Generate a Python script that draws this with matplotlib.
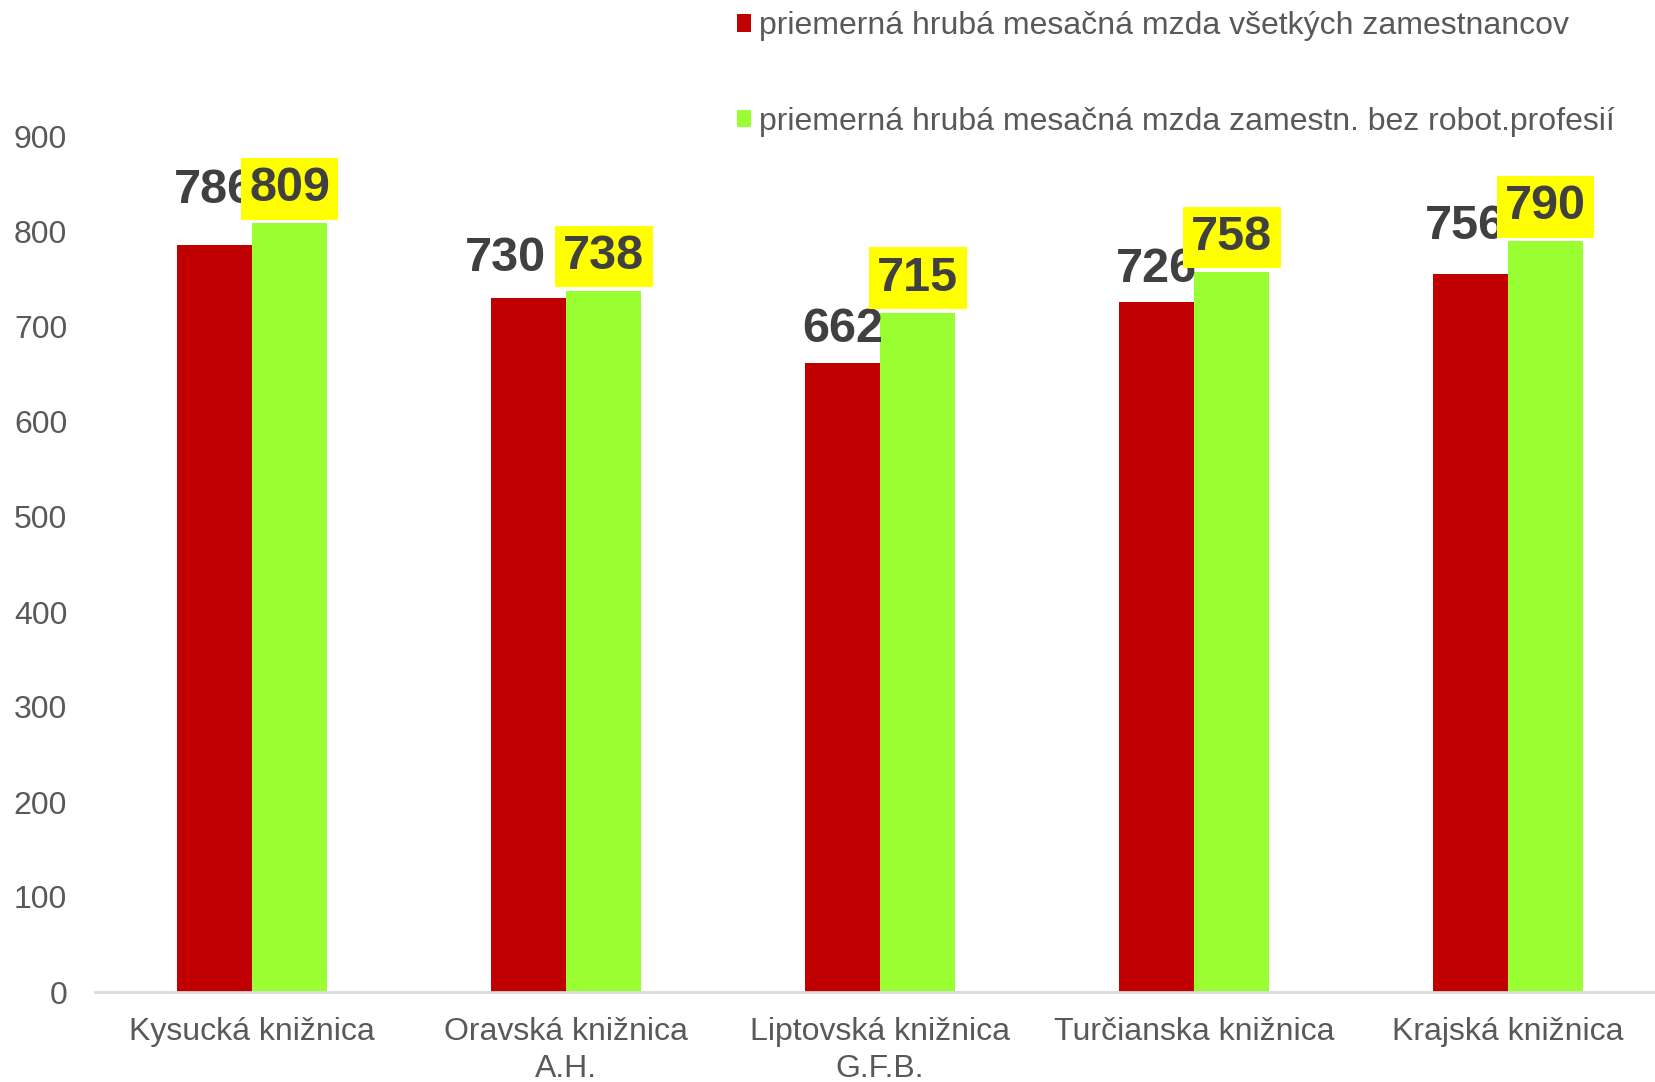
import matplotlib
matplotlib.use('Agg')
import matplotlib.pyplot as plt
import numpy as np

plt.rcParams['font.family'] = ['Liberation Sans', 'DejaVu Sans']

categories = ['Kysucká knižnica', 'Oravská knižnica\nA.H.', 'Liptovská knižnica\nG.F.B.',
              'Turčianska knižnica', 'Krajská knižnica']
mzda_vsetci = [786, 730, 662, 726, 756]
mzda_bez_robot = [809, 738, 715, 758, 790]
series_names = ['priemerná hrubá mesačná mzda všetkých zamestnancov',
                'priemerná hrubá mesačná mzda zamestn. bez robot.profesií']
yticks = [0, 100, 200, 300, 400, 500, 600, 700, 800, 900]

# posun popiskov cervenych stlpcov (Excel ich odsunul kvoli prekryvu), v pixeloch
red_dx = [0, -23, 0, 0, -5]
red_dy = [22, 7, 1, 0, 15]

RED = '#C00000'
GREEN = '#99FF33'

fig = plt.figure(figsize=(16.55, 10.82), dpi=100)
ax = fig.add_axes([95/1655, 90/1082, 1570/1655, 855/1082])

x = np.arange(len(categories))
w = 0.24
b1 = ax.bar(x - w/2, mzda_vsetci, w, color=RED, label=series_names[0], zorder=2)
b2 = ax.bar(x + w/2, mzda_bez_robot, w, color=GREEN, label=series_names[1], zorder=2)

ax.set_xlim(-0.5, len(categories) - 0.5)
ax.set_ylim(0, 900)
ax.set_yticks(yticks)
ax.set_xticks(x)
ax.set_xticklabels(categories, fontsize=23, color='#595959', linespacing=1.3)
ax.tick_params(axis='y', labelsize=23, colors='#595959', length=0, pad=20)
ax.tick_params(axis='x', length=0, pad=18)
for s in ['top', 'right', 'left']:
    ax.spines[s].set_visible(False)
ax.spines['bottom'].set_color('#D9D9D9')
ax.spines['bottom'].set_linewidth(2)

for i, v in enumerate(mzda_vsetci):
    ax.annotate(str(v), (x[i] - w/2, v), xytext=(red_dx[i], 20 + red_dy[i]),
                textcoords='offset pixels', ha='center', va='baseline',
                fontsize=35, fontweight='bold', color='#404040', zorder=5,
                annotation_clip=False)
for i, v in enumerate(mzda_bez_robot):
    ax.annotate(str(v), (x[i] + w/2, v), xytext=(0, 22),
                textcoords='offset pixels', ha='center', va='baseline',
                fontsize=35, fontweight='bold', color='#404040', zorder=6,
                annotation_clip=False,
                bbox=dict(boxstyle='square,pad=0.17', fc='#FFFF00', ec='none'))

leg = fig.legend(handles=[b1, b2], loc='upper left', bbox_to_anchor=(708/1655, 1.016),
                 frameon=False, fontsize=23, handlelength=0.46, handleheight=0.46,
                 handletextpad=0.25, labelspacing=2.05, labelcolor='#595959')

fig.savefig('out.png', dpi=100)
